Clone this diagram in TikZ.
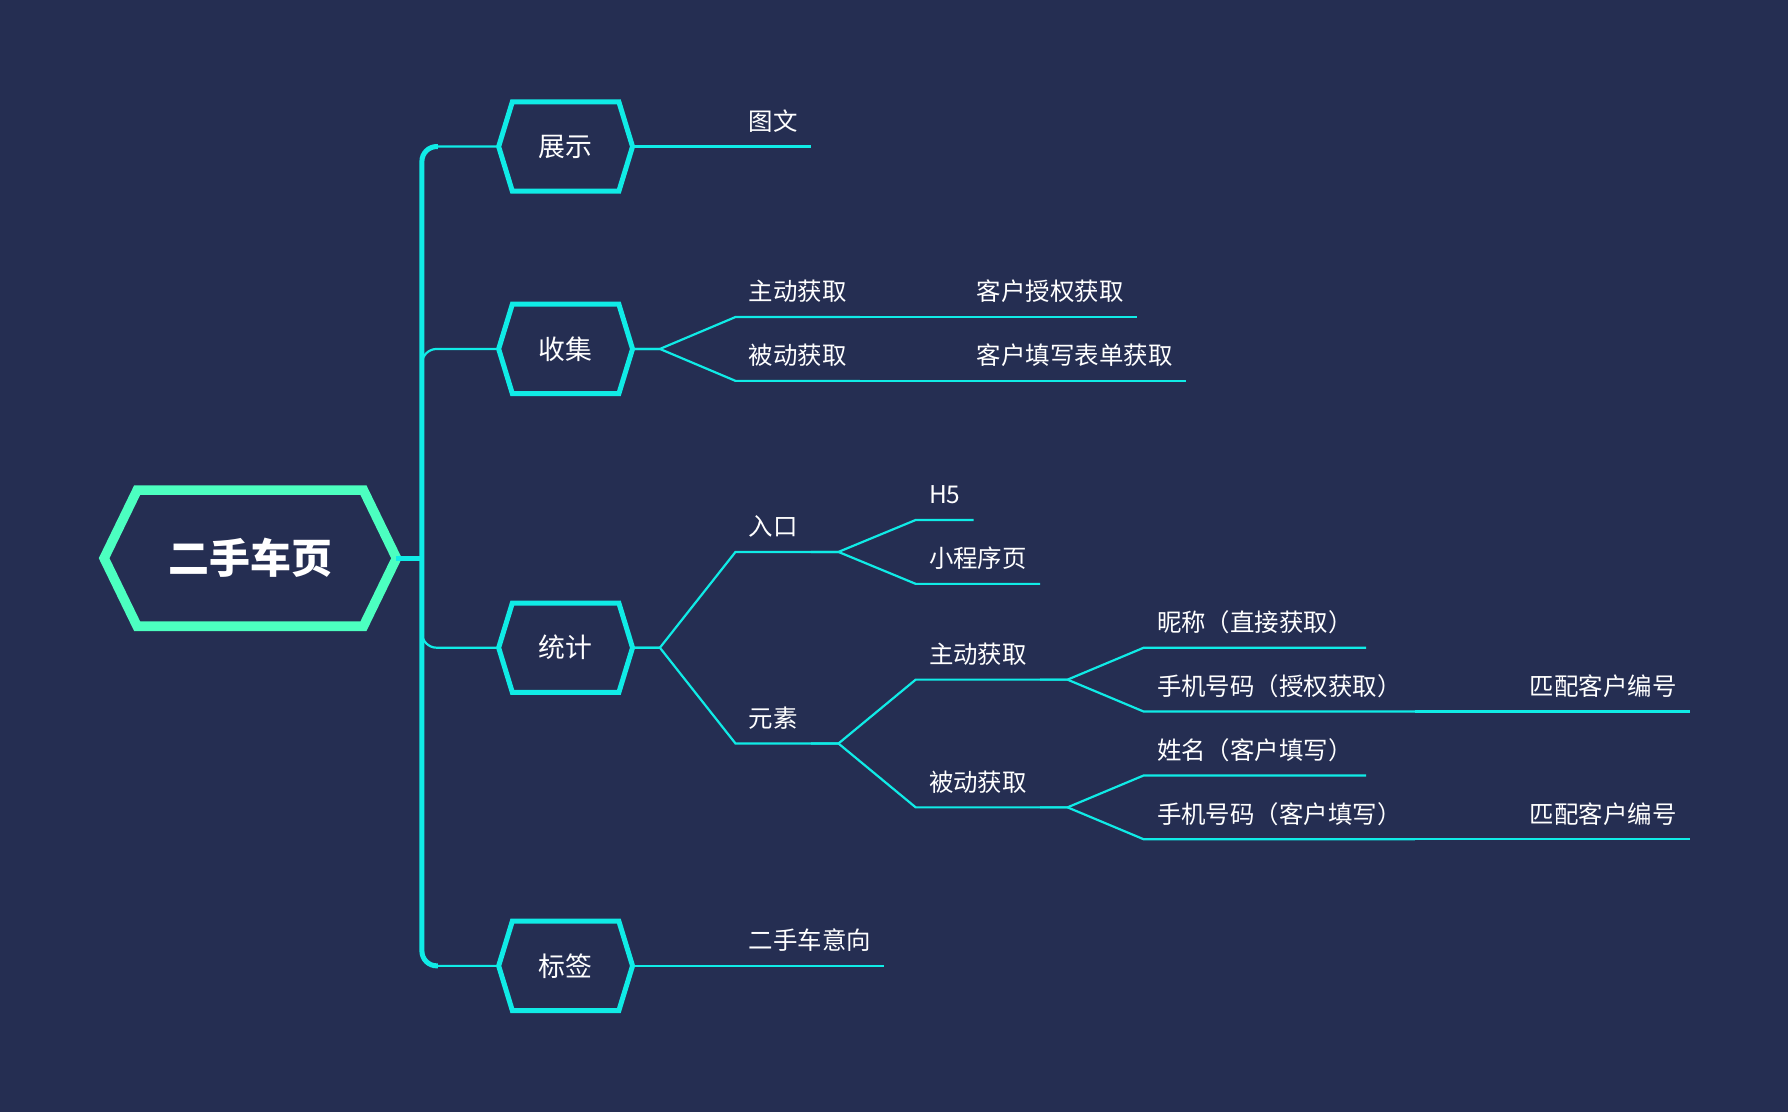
\documentclass[tikz,border=0pt]{standalone}
\usepackage{fontspec}
\setmainfont{Noto Sans CJK SC}
\definecolor{hintergrund}{RGB}{37,46,82}
\definecolor{tuerkis}{RGB}{16,235,230}
\definecolor{mint}{RGB}{76,255,192}
\tikzset{
  blatt/.style={anchor=south west, text=white, inner xsep=0.11cm, inner ysep=0pt,
    text height=0.19cm, text depth=0.135cm, font=\fontsize{6.1pt}{7pt}\selectfont},
  zweig/.style={text=white, minimum width=1.16cm, minimum height=0.77cm, inner sep=0pt,
    font=\fontsize{6.7pt}{8pt}\selectfont},
  linie/.style={draw=tuerkis, line width=0.55pt},
}
\begin{document}
\begin{tikzpicture}
    % Hintergrund
    \fill[hintergrund] (0,0) rectangle (15.68,-9.75);
    % Wurzel
    \node[text=white, minimum width=2.55cm, minimum height=1.18cm, inner sep=0pt,
      font=\bfseries\fontsize{10.2pt}{12pt}\selectfont] (wurzel) at (2.195,-4.895) {二手车页};
    \draw[mint, line width=2.4pt] (wurzel.west) -- ([xshift=0.29cm]wurzel.north west)
      -- ([xshift=-0.29cm]wurzel.north east) -- (wurzel.east)
      -- ([xshift=-0.29cm]wurzel.south east) -- ([xshift=0.29cm]wurzel.south west) -- cycle;
    % Hauptzweige
    \node[zweig] (zs) at (4.96,-1.285) {展示};
    \node[zweig] (sj) at (4.96,-3.06) {收集};
    \node[zweig] (tj) at (4.96,-5.68) {统计};
    \node[zweig] (bq) at (4.96,-8.47) {标签};
    \foreach \n in {zs,sj,tj,bq}
        \draw[tuerkis, line width=1.25pt] (\n.west) -- ([xshift=0.12cm]\n.north west)
          -- ([xshift=-0.12cm]\n.north east) -- (\n.east)
          -- ([xshift=-0.12cm]\n.south east) -- ([xshift=0.12cm]\n.south west) -- cycle;
    % Stamm
    \coordinate (knoten) at (3.70,-4.895);
    \draw[tuerkis, line width=1.25pt] (wurzel.east) -- (knoten);
    \draw[tuerkis, line width=1.25pt, rounded corners=0.13cm] ([xshift=0.14cm]knoten |- zs.west)
      -| (knoten) |- ([xshift=0.14cm]knoten |- bq.west);
    \foreach \n in {zs,sj,tj,bq}
        \draw[linie, rounded corners=0.13cm] (knoten) |- (\n.west);
    % Beschriftung
    \node[blatt] (tw) at (6.45,-1.285) {图文};
    \node[blatt] (sjz) at (6.45,-2.78) {主动获取};
    \node[blatt] (sjb) at (6.45,-3.34) {被动获取};
    \node[blatt] (sjzk) at (8.45,-2.78) {客户授权获取};
    \node[blatt] (sjbk) at (8.45,-3.34) {客户填写表单获取};
    \node[blatt] (rk) at (6.45,-4.84) {入口};
    \node[blatt] (ys) at (6.45,-6.52) {元素};
    \node[blatt] (hf) at (8.03,-4.56) {H5};
    \node[blatt] (xcx) at (8.03,-5.12) {小程序页};
    \node[blatt] (ysz) at (8.03,-5.96) {主动获取};
    \node[blatt] (ysb) at (8.03,-7.08) {被动获取};
    \node[blatt] (nc) at (10.03,-5.68) {昵称（直接获取）};
    \node[blatt] (sjsq) at (10.03,-6.24) {手机号码（授权获取）};
    \node[blatt] (xm) at (10.03,-6.80) {姓名（客户填写）};
    \node[blatt] (sjtx) at (10.03,-7.36) {手机号码（客户填写）};
    \node[blatt] (ppa) at (13.30,-6.24) {匹配客户编号};
    \node[blatt] (ppb) at (13.30,-7.36) {匹配客户编号};
    \node[blatt] (yx) at (6.45,-8.47) {二手车意向};
    % Verbindungen
    \foreach \a/\b in {zs.east/tw, sj.east/sjz, sj.east/sjb, sjz.south east/sjzk,
        sjb.south east/sjbk, tj.east/rk, tj.east/ys, rk.south east/hf, rk.south east/xcx,
        ys.south east/ysz, ys.south east/ysb, ysz.south east/nc, ysz.south east/sjsq,
        ysb.south east/xm, ysb.south east/sjtx, sjsq.south east/ppa, sjtx.south east/ppb,
        bq.east/yx}
        \draw[linie] (\a) -- ++(0.24,0) -- (\b.south west) -- (\b.south east);
\end{tikzpicture}
\end{document}
